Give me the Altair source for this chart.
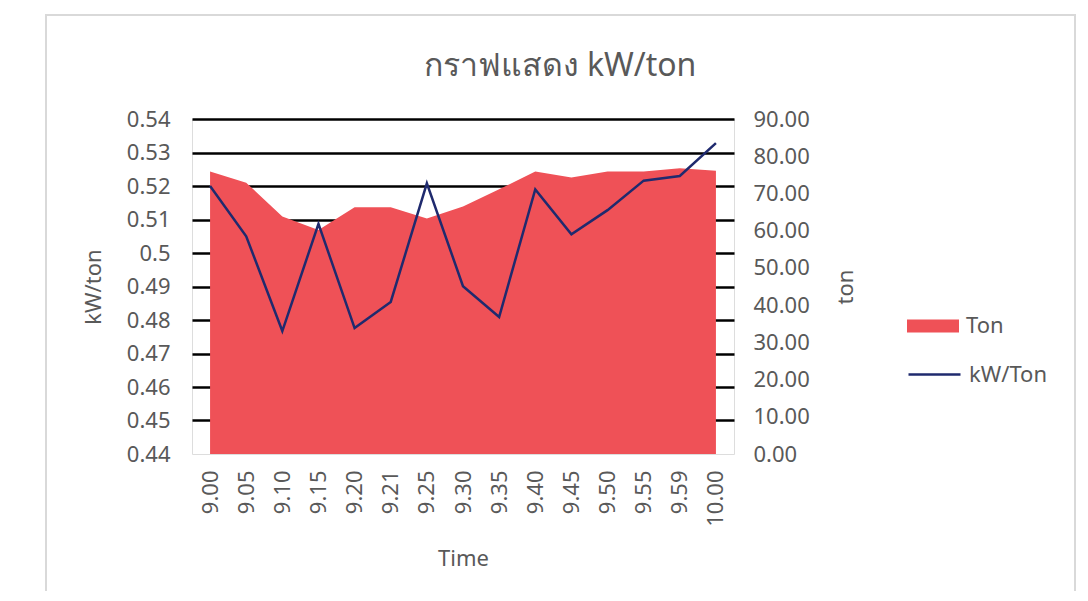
import altair as alt
import pandas as pd

times = ["9.00", "9.05", "9.10", "9.15", "9.20", "9.21", "9.25", "9.30",
         "9.35", "9.40", "9.45", "9.50", "9.55", "9.59", "10.00"]
ton = [75.9, 72.9, 63.8, 60.2, 66.3, 66.3, 63.3, 66.5,
       71.1, 75.9, 74.3, 75.9, 75.9, 76.8, 76.1]
kw_per_ton = [0.5200, 0.5050, 0.4767, 0.5087, 0.4776, 0.4854, 0.5208, 0.4901,
              0.4809, 0.5190, 0.5056, 0.5128, 0.5216, 0.5230, 0.5328]
left_ticks = [0.44, 0.45, 0.46, 0.47, 0.48, 0.49, 0.50, 0.51, 0.52, 0.53, 0.54]
right_ticks = [0, 10, 20, 30, 40, 50, 60, 70, 80, 90]

df = pd.DataFrame({"Time": times, "Ton": ton, "kW": kw_per_ton})

FONT = "Noto Sans"
GREY = "#595959"
RED = "#EF5157"
NAVY = "#1F2A6E"
FS = 22

x_enc = alt.X(
    "Time:N", sort=times, title="Time",
    axis=alt.Axis(labelAngle=270, labelFontSize=FS, labelColor=GREY, labelFont=FONT,
                  labelPadding=16, ticks=False, domain=False, grid=False,
                  titleFontSize=FS, titleColor=GREY, titleFont=FONT,
                  titleFontWeight="normal", titlePadding=22),
)

frame = alt.Chart(pd.DataFrame({"a": [0]})).mark_rect(
    fill="white", fillOpacity=0, stroke="#D9D9D9", strokeWidth=2
).encode(
    x=alt.value(-146), x2=alt.value(883), y=alt.value(-104), y2=alt.value(600)
)

area = alt.Chart(df).transform_calculate(s1="'Ton'").mark_area(opacity=1).encode(
    x=x_enc,
    y=alt.Y("Ton:Q", title="ton",
            scale=alt.Scale(domain=[0, 90], nice=False, zero=True),
            axis=alt.Axis(orient="right", values=right_ticks, format=".2f",
                          grid=False, ticks=False, domain=False,
                          labelFontSize=FS, labelColor=GREY, labelFont=FONT,
                          labelPadding=19, titleAngle=270, titleFontSize=FS,
                          titleColor=GREY, titleFont=FONT, titleFontWeight="normal",
                          titlePadding=48)),
    fill=alt.Fill("s1:N", scale=alt.Scale(domain=["Ton"], range=[RED]),
                  legend=alt.Legend(title=None, orient="none", legendX=715, legendY=181,
                                    symbolType="M-1,-0.25H1V0.25H-1Z", symbolSize=2704,
                                    symbolStrokeWidth=0, symbolOpacity=1,
                                    labelFontSize=FS, labelColor=GREY, labelFont=FONT,
                                    labelOffset=7, padding=0)),
)

line = alt.Chart(df).transform_calculate(s2="'kW/Ton'").mark_line(strokeWidth=2.5).encode(
    x=x_enc,
    y=alt.Y("kW:Q", title="kW/ton",
            scale=alt.Scale(domain=[0.44, 0.54], nice=False, zero=False),
            axis=alt.Axis(orient="left", values=left_ticks,
                          labelExpr="format(datum.value, '~g')",
                          grid=True, gridColor="black", gridWidth=2.5,
                          gridOpacity={"condition": {"test": "datum.value < 0.445", "value": 0},
                                       "value": 1},
                          ticks=False, domain=False,
                          labelFontSize=FS, labelColor=GREY, labelFont=FONT,
                          labelPadding=22, titleFontSize=FS, titleColor=GREY,
                          titleFont=FONT, titleFontWeight="normal", titlePadding=21)),
    stroke=alt.Stroke("s2:N", scale=alt.Scale(domain=["kW/Ton"], range=[NAVY]),
                      legend=alt.Legend(title=None, orient="none", legendX=715, legendY=228,
                                        symbolType="stroke", symbolSize=2704,
                                        symbolStrokeWidth=2.5,
                                        labelFontSize=FS, labelColor=GREY, labelFont=FONT,
                                        labelOffset=7, padding=0)),
)

chart = alt.layer(frame, area, line).resolve_scale(
    y="independent", fill="independent", stroke="independent"
).properties(
    width=542, height=335,
    padding={"left": 184, "top": 111, "right": 344, "bottom": 137},
    autosize=alt.AutoSizeParams(type="none"),
    title=alt.TitleParams("กราฟแสดง kW/ton", fontSize=32, color=GREY, font=FONT,
                          fontWeight="normal", anchor="middle", frame="group",
                          dx=97, offset=-94, baseline="alphabetic"),
).configure_view(fill="#D9D9D9", strokeWidth=0).configure(background="white")

chart.save("out.html", embed_options={"renderer": "svg", "actions": False})
